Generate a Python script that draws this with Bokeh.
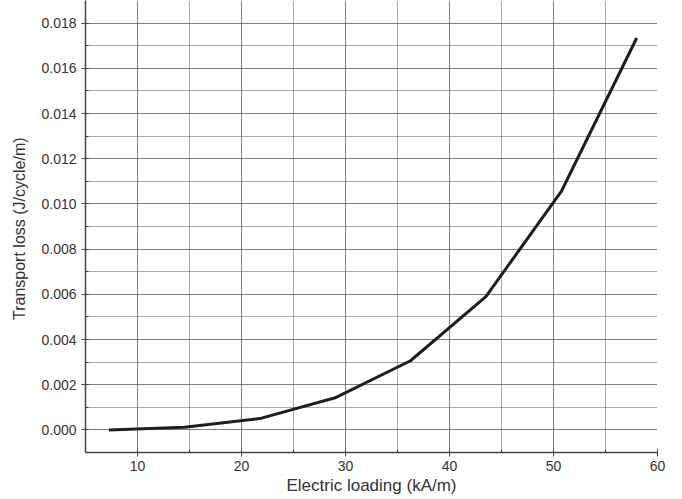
from bokeh.plotting import figure
from bokeh.embed import file_html
from bokeh.resources import INLINE
from bokeh.models import Range1d, SingleIntervalTicker, NumeralTickFormatter

electric_loading = [7.25, 14.5, 21.75, 29.0, 36.25, 43.5, 50.75, 58.0]
transport_loss = [0.0, 0.00012, 0.0005, 0.00142, 0.00306, 0.0059, 0.01055, 0.01734]

p = figure(width=682, height=499, output_backend="svg", toolbar_location=None,
           x_range=Range1d(5, 60), y_range=Range1d(-0.001, 0.019),
           min_border_left=85, min_border_right=25, min_border_top=0, min_border_bottom=47)
p.outline_line_color = None
p.background_fill_color = "white"
p.border_fill_color = "white"

p.line(electric_loading, transport_loss, line_color="#1e1e1e", line_width=3)

font = "Liberation Sans"
p.xaxis.ticker = SingleIntervalTicker(interval=10, num_minor_ticks=2)
p.yaxis.ticker = SingleIntervalTicker(interval=0.002, num_minor_ticks=2)
p.yaxis.formatter = NumeralTickFormatter(format="0.000")
p.xaxis.axis_label = "Electric loading (kA/m)"
p.yaxis.axis_label = "Transport loss  (J/cycle/m)"
for ax in (p.xaxis, p.yaxis):
    ax.axis_label_text_font = font
    ax.axis_label_text_font_style = "normal"
    ax.axis_label_text_color = "#333333"
    ax.major_label_text_font = font
    ax.major_label_text_font_size = "14px"
    ax.major_label_text_color = "#333333"
    ax.axis_line_color = "#444444"
    ax.axis_line_width = 1.5
    ax.major_tick_line_color = "#444444"
    ax.minor_tick_line_color = "#444444"
    ax.major_tick_out = 4
    ax.major_tick_in = 3
    ax.minor_tick_out = 0
    ax.minor_tick_in = 3
p.xaxis.axis_label_text_font_size = "17px"
p.yaxis.axis_label_text_font_size = "16px"
p.xaxis.axis_label_standoff = 2
p.yaxis.axis_label_standoff = 10
p.xaxis.major_label_standoff = 4

for g in (p.xgrid, p.ygrid):
    g.grid_line_color = "#555555"
    g.grid_line_dash = "1 1"
    g.grid_line_width = 1
    g.minor_grid_line_color = "#555555"
    g.minor_grid_line_dash = "1 1"
    g.minor_grid_line_width = 1

open("out.html", "w").write(file_html(p, INLINE))
